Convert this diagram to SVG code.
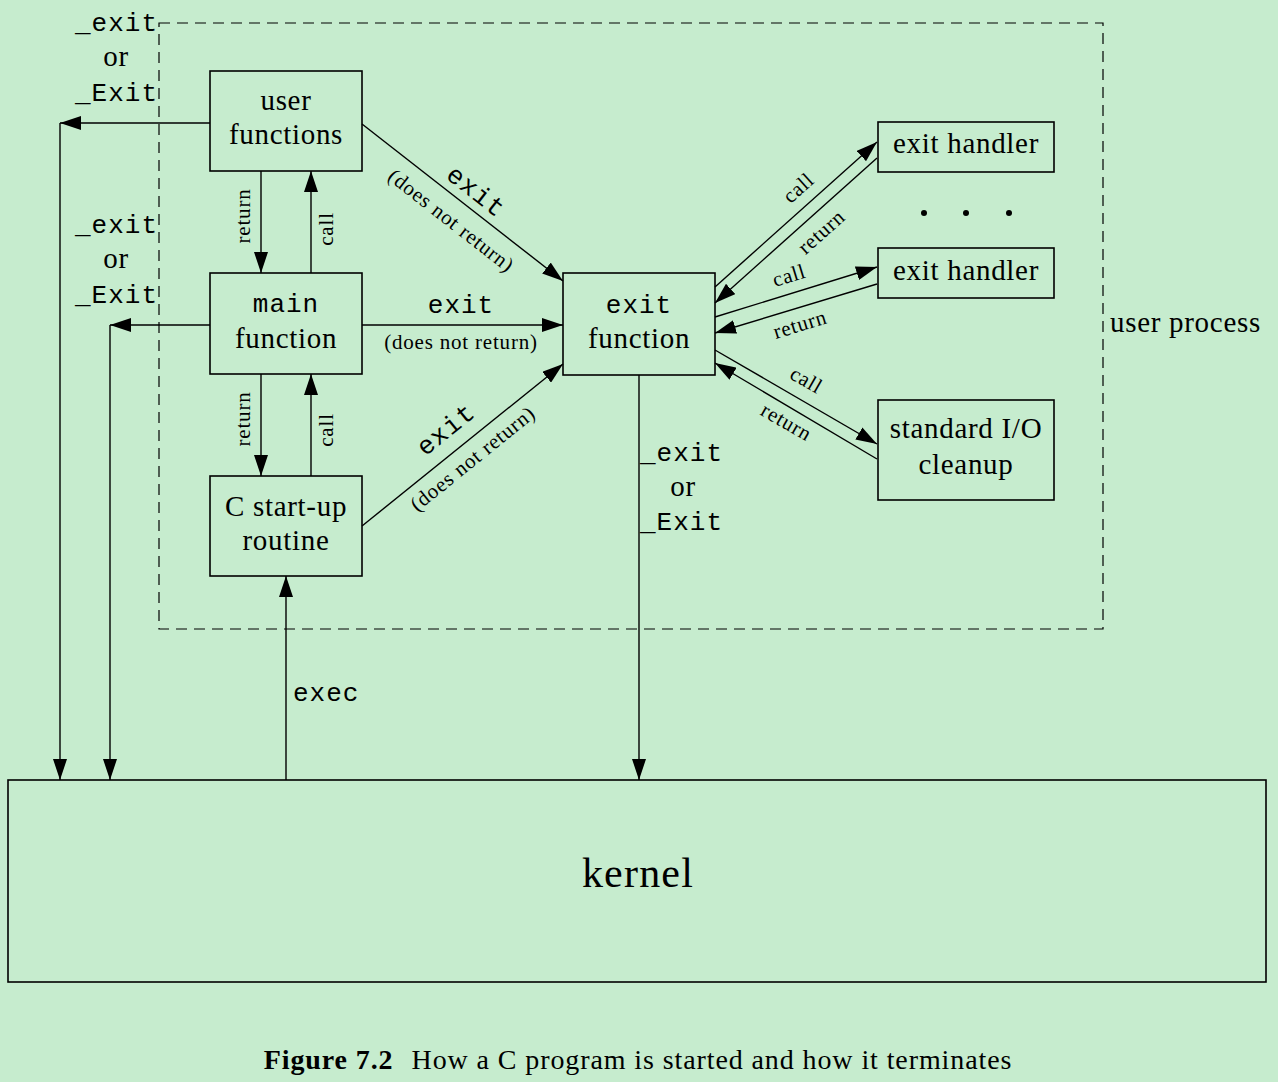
<svg xmlns="http://www.w3.org/2000/svg" width="1278" height="1082" viewBox="0 0 1278 1082">
<defs>
<marker id="ah" markerUnits="userSpaceOnUse" markerWidth="22" markerHeight="14" refX="21" refY="7" orient="auto">
<path d="M0,0 L21,7 L0,14 Z" fill="#000"/>
</marker>
<style>
.bx{fill:none;stroke:#000;stroke-width:1.6}
.ar{fill:none;stroke:#000;stroke-width:1.4;marker-end:url(#ah)}
.s{font-family:"Liberation Serif","Times New Roman",serif;font-size:29px;letter-spacing:0.7px;fill:#000}
.m{font-family:"Liberation Mono","Courier New",monospace;font-size:26px;letter-spacing:1px;fill:#000}
.sm{font-family:"Liberation Serif","Times New Roman",serif;font-size:21px;letter-spacing:0.8px;fill:#000}
.c{text-anchor:middle}
</style>
</defs>
<rect x="0" y="0" width="1278" height="1082" fill="#c6ecce"/>
<rect x="159" y="23" width="944" height="606" fill="none" stroke="#000" stroke-width="1.2" stroke-dasharray="11,7"/>
<text class="s" x="1110" y="332">user process</text>

<g id="user-functions">
<rect class="bx" x="210" y="71" width="152" height="100"/>
<text class="s c" x="286" y="110">user</text>
<text class="s c" x="286" y="144">functions</text>
</g>
<g id="main-function">
<rect class="bx" x="210" y="273" width="152" height="101"/>
<text class="m c" x="286" y="312">main</text>
<text class="s c" x="286" y="348">function</text>
</g>
<g id="c-startup">
<rect class="bx" x="210" y="476" width="152" height="100"/>
<text class="s c" x="286" y="516">C start-up</text>
<text class="s c" x="286" y="550">routine</text>
</g>
<g id="exit-function">
<rect class="bx" x="563" y="273" width="152" height="102"/>
<text class="m c" x="639" y="313">exit</text>
<text class="s c" x="639" y="348">function</text>
</g>
<g id="exit-handler-1">
<rect class="bx" x="878" y="122" width="176" height="50"/>
<text class="s c" x="966" y="153">exit handler</text>
</g>
<g id="exit-handler-2">
<rect class="bx" x="878" y="248" width="176" height="50"/>
<text class="s c" x="966" y="280">exit handler</text>
</g>
<g id="dots">
<circle cx="924" cy="213" r="3"/>
<circle cx="966" cy="213" r="3"/>
<circle cx="1009" cy="213" r="3"/>
</g>
<g id="stdio-cleanup">
<rect class="bx" x="878" y="400" width="176" height="100"/>
<text class="s c" x="966" y="438">standard I/O</text>
<text class="s c" x="966" y="474">cleanup</text>
</g>
<g id="kernel">
<rect class="bx" x="8" y="780" width="1258" height="202"/>
<text class="s c" x="638" y="887" style="font-size:42px;letter-spacing:1.2px">kernel</text>
</g>

<g id="connectors">
<line class="ar" x1="210" y1="123" x2="60" y2="123"/>
<line class="ar" x1="60" y1="123" x2="60" y2="780"/>
<line class="ar" x1="210" y1="325" x2="110" y2="325"/>
<line class="ar" x1="110" y1="325" x2="110" y2="780"/>
<line class="ar" x1="261" y1="171" x2="261" y2="273"/>
<line class="ar" x1="311" y1="273" x2="311" y2="171"/>
<line class="ar" x1="261" y1="374" x2="261" y2="476"/>
<line class="ar" x1="311" y1="476" x2="311" y2="374"/>
<line class="ar" x1="362" y1="124" x2="563" y2="281"/>
<line class="ar" x1="362" y1="325" x2="563" y2="325"/>
<line class="ar" x1="362" y1="526" x2="563" y2="364"/>
<line class="ar" x1="715" y1="287" x2="877" y2="142"/>
<line class="ar" x1="877" y1="158" x2="715" y2="303"/>
<line class="ar" x1="715" y1="317" x2="877" y2="267"/>
<line class="ar" x1="877" y1="284" x2="715" y2="333"/>
<line class="ar" x1="715" y1="350" x2="877" y2="444"/>
<line class="ar" x1="877" y1="459" x2="715" y2="363"/>
<line class="ar" x1="639" y1="375" x2="639" y2="780"/>
<line class="ar" x1="286" y1="780" x2="286" y2="576"/>
</g>

<g id="labels">
<text class="m" text-anchor="end" x="158" y="31">_exit</text>
<text class="s c" x="116" y="66">or</text>
<text class="m" text-anchor="end" x="158" y="101">_Exit</text>
<text class="m" text-anchor="end" x="158" y="233">_exit</text>
<text class="s c" x="116" y="268">or</text>
<text class="m" text-anchor="end" x="158" y="303">_Exit</text>

<text class="m" x="640" y="461">_exit</text>
<text class="s c" x="683" y="496">or</text>
<text class="m" x="640" y="530">_Exit</text>
<text class="m" x="293" y="701">exec</text>

<text class="sm c" transform="translate(250,216) rotate(-90)">return</text>
<text class="sm c" transform="translate(333,229) rotate(-90)">call</text>
<text class="sm c" transform="translate(250,419) rotate(-90)">return</text>
<text class="sm c" transform="translate(333,430) rotate(-90)">call</text>

<text class="m c" x="461" y="313">exit</text>
<text class="sm c" x="461" y="349">(does not return)</text>

<text class="m c" transform="translate(471,198) rotate(38)">exit</text>
<text class="sm c" transform="translate(447,226) rotate(38)">(does not return)</text>
<text class="m c" transform="translate(451,436) rotate(-38.9)">exit</text>
<text class="sm c" transform="translate(477,464) rotate(-38.9)">(does not return)</text>

<text class="sm c" transform="translate(803,193) rotate(-41.8)">call</text>
<text class="sm c" transform="translate(826,237) rotate(-41.8)">return</text>
<text class="sm c" transform="translate(791,282) rotate(-17)">call</text>
<text class="sm c" transform="translate(802,331) rotate(-17)">return</text>
<text class="sm c" transform="translate(803,386) rotate(30)">call</text>
<text class="sm c" transform="translate(783,428) rotate(30)">return</text>
</g>

<text x="638" y="1069" class="c" style="font-family:'Liberation Serif','Times New Roman',serif;font-size:28px;letter-spacing:0.9px"><tspan font-weight="bold">Figure 7.2</tspan><tspan dx="18">How a C program is started and how it terminates</tspan></text>
</svg>
